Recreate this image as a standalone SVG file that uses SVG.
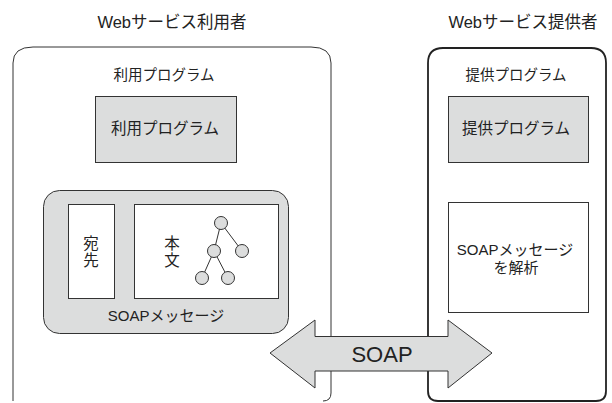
<svg xmlns="http://www.w3.org/2000/svg" width="612" height="403" viewBox="0 0 612 403">
<style>
text{font-family:"Liberation Sans","Noto Sans CJK JP",sans-serif;fill:#222;text-anchor:middle}
.h{font-size:16.5px}
.t{font-size:15.5px}
.m{font-size:14.5px}
.s{font-size:15px}
.gray{fill:#dcdddd;stroke:#333;stroke-width:1}
.white{fill:#fff;stroke:#333;stroke-width:1}
.ln{stroke:#333;stroke-width:1;fill:none}
</style>
<rect width="612" height="403" fill="#fff"/>
<g id="user">
<path class="ln" d="M13,401 L13,63 Q13,47 33,47 L311,47 Q331,47 331,63 L331,393 Q331,401 323,401"/>
<text class="h" x="172" y="28">Webサービス利用者</text>
<text class="m" x="164" y="80">利用プログラム</text>
</g>
<g id="provider">
<path class="ln" style="stroke-width:1.8;stroke:#222" d="M428,63 Q428,48 443,48 L591,48 Q606,48 606,63 L606,391 Q606,401 596,401 L438,401 Q428,401 428,391 Z"/>
<text class="h" x="523" y="28">Webサービス提供者</text>
<text class="m" x="516" y="80">提供プログラム</text>
</g>
<g id="user-program">
<rect class="gray" x="95.5" y="96.5" width="141" height="66"/>
<text class="t" x="165" y="134">利用プログラム</text>
</g>
<g id="provider-program">
<rect class="gray" x="448.5" y="96.5" width="140" height="66"/>
<text class="t" x="516" y="134">提供プログラム</text>
</g>
<g id="soap-message">
<rect class="gray" x="43.5" y="190.5" width="245" height="143" rx="16"/>
<text class="s" x="166" y="321">SOAPメッセージ</text>
</g>
<g id="address">
<rect class="white" x="68.5" y="204.5" width="46" height="94"/>
<text class="t" x="91" y="249">宛</text>
<text class="t" x="91" y="266">先</text>
</g>
<g id="body">
<rect class="white" x="134.5" y="204.5" width="144" height="94"/>
<text class="t" x="172" y="249">本</text>
<text class="t" x="172" y="266">文</text>
<g class="ln">
<line x1="221" y1="223" x2="214" y2="251"/>
<line x1="221" y1="223" x2="242" y2="251"/>
<line x1="214" y1="251" x2="202" y2="278"/>
<line x1="214" y1="251" x2="228" y2="278"/>
</g>
<g class="gray">
<circle cx="221" cy="223" r="6.5"/>
<circle cx="214" cy="251" r="6.5"/>
<circle cx="242" cy="251" r="6.5"/>
<circle cx="202" cy="278" r="6.5"/>
<circle cx="228" cy="278" r="6.5"/>
</g>
</g>
<g id="parse">
<rect class="white" x="448.5" y="202.5" width="140" height="110"/>
<text class="s" x="515" y="255">SOAPメッセージ</text>
<text class="s" x="516" y="273">を解析</text>
</g>
<g id="connectors">
<polygon class="gray" points="270,353 315,320 315,336.5 448,336.5 448,320 492,353 448,388 448,371 315,371 315,388"/>
<text x="382" y="362" style="font-size:22px">SOAP</text>
</g>
</svg>
